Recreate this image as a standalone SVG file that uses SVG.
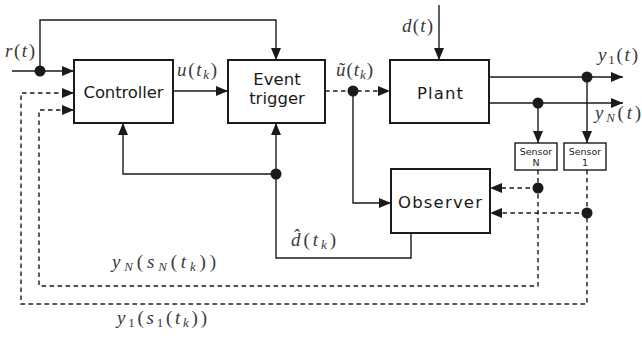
<svg xmlns="http://www.w3.org/2000/svg" width="642" height="339" viewBox="0 0 642 339">
<style>
.box{fill:#fff;stroke:#1a1a1a;stroke-width:2}
.ln{fill:none;stroke:#1a1a1a;stroke-width:1.4}
.dl{fill:none;stroke:#1a1a1a;stroke-width:1.4;stroke-dasharray:4.5 3.5}
.dot{fill:#1a1a1a}
.lbl{font-family:"DejaVu Sans",Verdana,sans-serif;font-size:16.5px;fill:#1a1a1a;text-anchor:middle}
.sl{font-family:"DejaVu Sans",Verdana,sans-serif;font-size:9.5px;fill:#1a1a1a;text-anchor:middle}
.m{font-family:"Liberation Serif","Times New Roman",serif;font-style:italic;font-size:19px;fill:#3a3a3a}
.u{font-style:normal}
.s{font-size:13px}
</style>
<defs>
<marker id="ah" markerUnits="userSpaceOnUse" markerWidth="12" markerHeight="10" refX="12" refY="5" orient="auto">
<path d="M0,0 L12,5 L0,10 Z" fill="#1a1a1a"/>
</marker>
</defs>
<g id="connectors">
<path class="ln" d="M12,71 H74" marker-end="url(#ah)"/>
<path class="ln" d="M40,71 V20 H276 V60" marker-end="url(#ah)"/>
<path class="ln" d="M173,91 H228" marker-end="url(#ah)"/>
<path class="dl" d="M325,91 H390" marker-end="url(#ah)"/>
<path class="ln" d="M439,5 V60" marker-end="url(#ah)"/>
<path class="ln" d="M353,91 V203 H391" marker-end="url(#ah)"/>
<path class="ln" d="M411,233 V258 H276 V123" marker-end="url(#ah)"/>
<path class="ln" d="M276,174 H123 V123" marker-end="url(#ah)"/>
<path class="ln" d="M489,77 H623" marker-end="url(#ah)"/>
<path class="ln" d="M489,103 H623" marker-end="url(#ah)"/>
<path class="ln" d="M538,103 V143" marker-end="url(#ah)"/>
<path class="ln" d="M587,77 V143" marker-end="url(#ah)"/>
<path class="dl" d="M538,170 V286 H39 V110 H74" marker-end="url(#ah)"/>
<path class="dl" d="M587,170 V304 H21 V93 H74" marker-end="url(#ah)"/>
<path class="dl" d="M538,188 H490" marker-end="url(#ah)"/>
<path class="dl" d="M587,213 H490" marker-end="url(#ah)"/>
<circle class="dot" cx="40" cy="71" r="5.5"/>
<circle class="dot" cx="353" cy="91" r="5.5"/>
<circle class="dot" cx="276" cy="174" r="5.5"/>
<circle class="dot" cx="587" cy="77" r="5.5"/>
<circle class="dot" cx="538" cy="103" r="5.5"/>
<circle class="dot" cx="538" cy="188" r="5.5"/>
<circle class="dot" cx="587" cy="213" r="5.5"/>
</g>
<g id="controller">
<rect class="box" x="74" y="60" width="99" height="63"/>
<text class="lbl" x="123.5" y="98" textLength="80">Controller</text>
</g>
<g id="event-trigger">
<rect class="box" x="228" y="60" width="97" height="63"/>
<text class="lbl" x="277" y="85">Event</text>
<text class="lbl" x="277" y="104">trigger</text>
</g>
<g id="plant">
<rect class="box" x="390" y="60" width="99" height="63"/>
<text class="lbl" x="440" y="99" textLength="46">Plant</text>
</g>
<g id="observer">
<rect class="box" x="391" y="169" width="99" height="64"/>
<text class="lbl" x="440" y="208" textLength="84">Observer</text>
</g>
<g id="sensor-n">
<rect class="box" x="515" y="143" width="42" height="27" style="stroke-width:1.4"/>
<text class="sl" x="536" y="155">Sensor</text>
<text class="sl" x="536" y="166">N</text>
</g>
<g id="sensor-1">
<rect class="box" x="564" y="143" width="42" height="27" style="stroke-width:1.4"/>
<text class="sl" x="585" y="155">Sensor</text>
<text class="sl" x="585" y="166">1</text>
</g>
<g id="labels">
<text class="m" x="5" y="57" textLength="30">r<tspan class="u">(</tspan>t<tspan class="u">)</tspan></text>
<text class="m" x="177" y="76" textLength="40">u<tspan class="u">(</tspan>t<tspan class="s" dy="3">k</tspan><tspan class="u" dy="-3">)</tspan></text>
<text class="m" x="336" y="76" textLength="37">ũ<tspan class="u">(</tspan>t<tspan class="s" dy="3">k</tspan><tspan class="u" dy="-3">)</tspan></text>
<text class="m" x="402" y="32" textLength="31">d<tspan class="u">(</tspan>t<tspan class="u">)</tspan></text>
<text class="m" x="598" y="61" textLength="40">y<tspan class="s u" dy="3">1</tspan><tspan class="u" dy="-3">(</tspan>t<tspan class="u">)</tspan></text>
<text class="m" x="595" y="119" textLength="46">y<tspan class="s" dy="3">N</tspan><tspan class="u" dy="-3">(</tspan>t<tspan class="u">)</tspan></text>
<text class="m" x="291" y="246" textLength="45">d̂<tspan class="u">(</tspan>t<tspan class="s" dy="3">k</tspan><tspan class="u" dy="-3">)</tspan></text>
<text class="m" x="112" y="268" textLength="104">y<tspan class="s" dy="3">N</tspan><tspan class="u" dy="-3">(</tspan>s<tspan class="s" dy="3">N</tspan><tspan class="u" dy="-3">(</tspan>t<tspan class="s" dy="3">k</tspan><tspan class="u" dy="-3">))</tspan></text>
<text class="m" x="117" y="324" textLength="90">y<tspan class="s u" dy="3">1</tspan><tspan class="u" dy="-3">(</tspan>s<tspan class="s u" dy="3">1</tspan><tspan class="u" dy="-3">(</tspan>t<tspan class="s" dy="3">k</tspan><tspan class="u" dy="-3">))</tspan></text>
</g>
</svg>
